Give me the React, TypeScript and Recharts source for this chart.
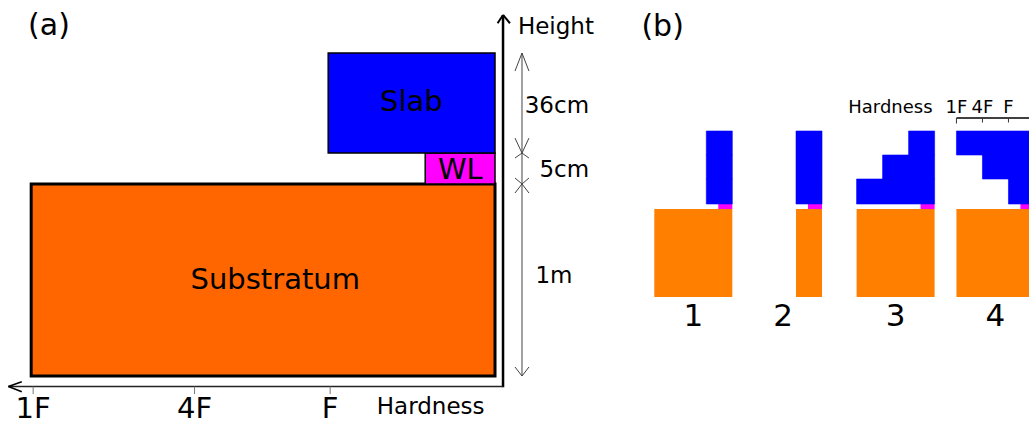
import { ComposedChart, XAxis, YAxis, ReferenceArea, ReferenceLine, Scatter } from 'recharts';

const FONT = '"DejaVu Sans", sans-serif';

// ---------- panel (a): schematic column ----------
// hardness runs right -> left (0 = soft edge), heights are drawing units (not to scale)
const layerNamesA = ['Substratum', 'WL', 'Slab'];
const layerColorsA = ['#ff6600', '#ff00ff', '#0000ff'];
const layerHardnessA = [93.7, 14.1, 33.7];
const layerBottomA = [0, 100, 116.1];
const layerTopA = [100, 116.1, 168.2];
const layerTextXA = [44.4, 7.0, 16.9];
const layerTextYA = [50.7, 108.0, 143.4];

const hardnessTickLabelsA = ['1F', '4F', 'F'];
const hardnessTickValuesA = [93.3, 60.7, 33.3];

const thicknessLabelsA = ['1m', '5cm', '36cm'];
const thicknessTextXA = [-11.9, -14.0, -12.5];
const thicknessTextYA = [52.7, 107.9, 141.3];
const headUpLenA = [4.7, 2.6, 9.4];
const headDownLenA = [4.7, 3.1, 7.8];

// axis frame of panel (a), in data units
const axisXA = -1.62;
const axisYA = -5.47;
const axisTopA = 188;
const axisLeftA = 98.3;
const dimXA = -5.45;

// ---------- panel (b): four hardness profiles ----------
const profileNames = ['1', '2', '3', '4'];
const profileRightEdge = [3.55, 7.0, 11.33, 15.17];
const substratumHardnessB = [3, 1, 3, 3];
const weakLayerHardnessB = [0.54, 0.54, 0.54, 0.54];
// slab sub-layers, bottom -> top (1 = F, 2 = 4F, 3 = 1F)
const slabHardnessB = [
  [1, 1, 1],
  [1, 1, 1],
  [3, 2, 1],
  [1, 2, 3],
];
const substratumTopB = 88;
const weakLayerTopB = 93;
const slabTopsB = [118, 142, 166];

const hardnessTickLabelsB = ['1F', '4F', 'F'];
const hardnessTickValuesB = [3, 2, 1];

type Pt = { x: number; y: number };
type Note = { x: number; y: number; text: string; size: number };

function seg(key: string, a: Pt, b: Pt, stroke: string, w: number) {
  return (
    <ReferenceLine key={key} segment={[a, b]} stroke={stroke} strokeWidth={w} ifOverflow="visible" />
  );
}

// text anchored at a data point, vertically centred on cap height
const TextShape = (props: any) => {
  const { cx, cy, payload } = props;
  if (cx == null || cy == null) return null;
  return (
    <text
      x={cx}
      y={cy + payload.size * 0.355}
      textAnchor="middle"
      fontSize={payload.size}
      fontFamily={FONT}
      fill="#000"
    >
      {payload.text}
    </text>
  );
};

const notesA: Note[] = [
  ...layerNamesA.map((t, i) => ({ x: layerTextXA[i], y: layerTextYA[i], text: t, size: 29 })),
  ...hardnessTickLabelsA.map((t, i) => ({ x: hardnessTickValuesA[i], y: -16.6, text: t, size: 29 })),
  ...thicknessLabelsA.map((t, i) => ({ x: thicknessTextXA[i], y: thicknessTextYA[i], text: t, size: 23 })),
  { x: 13.0, y: -15.4, text: 'Hardness', size: 23 },
  { x: -12.3, y: 182.4, text: 'Height', size: 23 },
  { x: 90.1, y: 183.1, text: '(a)', size: 30 },
];

const r4 = profileRightEdge[3];
const notesB: Note[] = [
  ...profileNames.map((t, i) => ({ x: profileRightEdge[i] - 1.5, y: -18, text: t, size: 31 })),
  ...hardnessTickLabelsB.map((t, i) => ({ x: r4 - hardnessTickValuesB[i], y: 190.4, text: t, size: 18 })),
  { x: 9.63, y: 190.4, text: 'Hardness', size: 18 },
  { x: 0.87, y: 271.6, text: '(b)', size: 30 },
];

function PanelA() {
  const dims: any[] = [];
  thicknessLabelsA.forEach((lab, i) => {
    const lo = layerBottomA[i];
    const hi = layerTopA[i];
    dims.push(seg(`d${i}`, { x: dimXA, y: lo }, { x: dimXA, y: hi }, '#444', 1));
    dims.push(seg(`u${i}a`, { x: dimXA, y: hi }, { x: dimXA - 1.41, y: hi - headUpLenA[i] }, '#444', 1));
    dims.push(seg(`u${i}b`, { x: dimXA, y: hi }, { x: dimXA + 1.41, y: hi - headUpLenA[i] }, '#444', 1));
    dims.push(seg(`b${i}a`, { x: dimXA, y: lo }, { x: dimXA - 1.41, y: lo + headDownLenA[i] }, '#444', 1));
    dims.push(seg(`b${i}b`, { x: dimXA, y: lo }, { x: dimXA + 1.41, y: lo + headDownLenA[i] }, '#444', 1));
  });

  return (
    <ComposedChart width={620} height={425} margin={{ top: 0, right: 0, bottom: 0, left: 0 }}>
      <XAxis type="number" dataKey="x" domain={[-25.25, 100]} reversed hide allowDataOverflow />
      <YAxis type="number" dataKey="y" domain={[-25.5, 195.8]} hide allowDataOverflow />

      {layerNamesA.map((name, i) => (
        <ReferenceArea
          key={name}
          x1={0}
          x2={layerHardnessA[i]}
          y1={layerBottomA[i]}
          y2={layerTopA[i]}
          fill={layerColorsA[i]}
          fillOpacity={1}
          stroke="#000"
          strokeWidth={i === 0 ? 3 : 1.5}
          ifOverflow="visible"
        />
      ))}

      {/* axes */}
      {seg('ax-v', { x: axisXA, y: axisYA - 0.4 }, { x: axisXA, y: axisTopA }, '#000', 2.5)}
      {seg('ax-va', { x: axisXA, y: axisTopA }, { x: axisXA + 1.1, y: axisTopA - 4.3 }, '#000', 2)}
      {seg('ax-vb', { x: axisXA, y: axisTopA }, { x: axisXA - 1.4, y: axisTopA - 4.3 }, '#000', 2)}
      {seg('ax-h', { x: axisXA, y: axisYA }, { x: axisLeftA, y: axisYA }, '#222', 1.6)}
      {seg('ax-ha', { x: axisLeftA, y: axisYA }, { x: axisLeftA - 2.7, y: axisYA + 2.5 }, '#000', 1.6)}
      {seg('ax-hb', { x: axisLeftA, y: axisYA }, { x: axisLeftA - 2.7, y: axisYA - 2.7 }, '#000', 1.6)}
      {hardnessTickValuesA.map((v, i) =>
        seg(`t${i}`, { x: v, y: axisYA }, { x: v, y: -9.4 }, '#777', 1)
      )}
      {dims}

      <Scatter data={notesA} dataKey="y" shape={TextShape} isAnimationActive={false} />
    </ComposedChart>
  );
}

function PanelB() {
  const blocks: any[] = [];
  profileNames.forEach((p, i) => {
    const r = profileRightEdge[i];
    blocks.push(
      <ReferenceArea
        key={`s${i}`}
        x1={r - substratumHardnessB[i]}
        x2={r}
        y1={0}
        y2={substratumTopB}
        fill="#ff7f00"
        fillOpacity={1}
        ifOverflow="visible"
      />
    );
    blocks.push(
      <ReferenceArea
        key={`w${i}`}
        x1={r - weakLayerHardnessB[i]}
        x2={r}
        y1={substratumTopB}
        y2={weakLayerTopB}
        fill="#ff00ff"
        fillOpacity={1}
        ifOverflow="visible"
      />
    );
    slabHardnessB[i].forEach((h, j) => {
      blocks.push(
        <ReferenceArea
          key={`b${i}${j}`}
          x1={r - h}
          x2={r}
          y1={j === 0 ? weakLayerTopB : slabTopsB[j - 1]}
          y2={slabTopsB[j]}
          fill="#0000ff"
          fillOpacity={1}
          stroke="#0000ff"
          strokeWidth={0.6}
          ifOverflow="visible"
        />
      );
    });
  });

  return (
    <ComposedChart width={389} height={425} margin={{ top: 0, right: 0, bottom: 0, left: 0 }}>
      <XAxis type="number" dataKey="x" domain={[0, 14.96]} hide allowDataOverflow />
      <YAxis type="number" dataKey="y" domain={[-128, 297]} hide allowDataOverflow />
      {blocks}

      {seg('sc', { x: r4 - 3, y: 179 }, { x: r4, y: 179 }, '#000', 1.5)}
      {hardnessTickValuesB.map((v, i) =>
        seg(`st${i}`, { x: r4 - v, y: 179 }, { x: r4 - v, y: i === 0 ? 173.5 : 174.5 }, '#333', 1)
      )}

      <Scatter data={notesB} dataKey="y" shape={TextShape} isAnimationActive={false} />
    </ComposedChart>
  );
}

export default function App() {
  return (
    <div
      style={{
        position: 'absolute',
        left: 0,
        top: 0,
        width: 1029,
        height: 425,
        background: '#fff',
        fontFamily: FONT,
        overflow: 'hidden',
      }}
    >
      <div style={{ position: 'absolute', left: 0, top: 0 }}>
        <PanelA />
      </div>
      <div style={{ position: 'absolute', left: 640, top: 0 }}>
        <PanelB />
      </div>
    </div>
  );
}
